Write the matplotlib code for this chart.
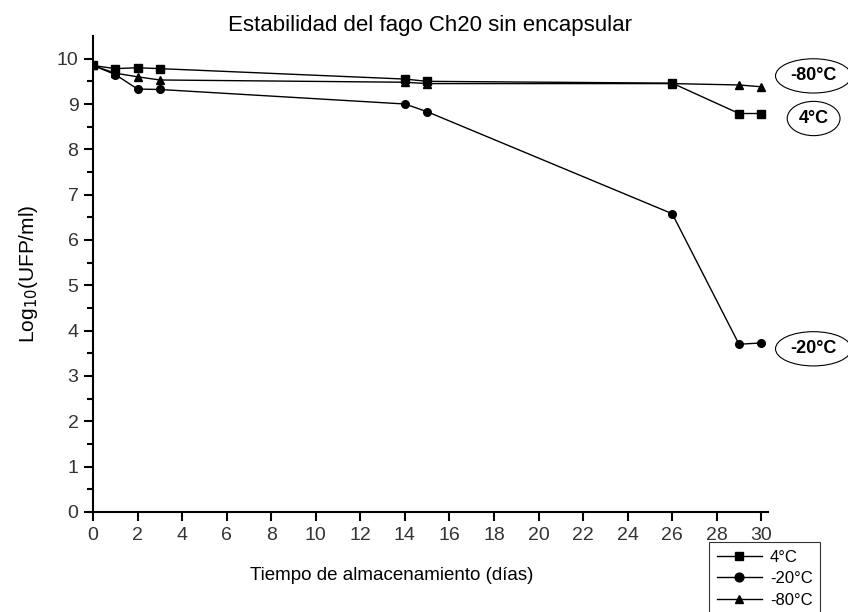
import matplotlib.pyplot as plt
import numpy as np

plt.rcParams['font.family'] = ['Liberation Sans', 'DejaVu Sans']

# data
dias = [0, 1, 2, 3, 14, 15, 26, 29, 30]
ufp_4c = [9.85, 9.78, 9.80, 9.78, 9.55, 9.50, 9.46, 8.79, 8.79]
ufp_m20c = [9.85, 9.65, 9.33, 9.32, 9.00, 8.83, 6.58, 3.70, 3.73]
ufp_m80c = [9.85, 9.68, 9.60, 9.53, 9.48, 9.45, 9.45, 9.42, 9.38]

series_labels = ['4°C', '-20°C', '-80°C']
series_markers = ['s', 'o', '^']
end_labels = ['-80°C', '4°C', '-20°C']
end_label_y = [9.62, 8.68, 3.6]

fig = plt.figure(figsize=(8.48, 6.12), dpi=100)
ax = fig.add_axes([93 / 848, 1 - 512 / 612, (768 - 93) / 848, (512 - 36) / 612])

for vals, lab, mk in zip([ufp_4c, ufp_m20c, ufp_m80c], series_labels, series_markers):
    ax.plot(dias, vals, color='black', linewidth=1, marker=mk, markersize=5.5, label=lab)

ax.set_xlim(0, 30.3)
ax.set_ylim(0, 10.5)
ax.set_xticks(np.arange(0, 31, 2))
ax.set_yticks(np.arange(0, 11, 1))
ax.set_yticks(np.arange(0.5, 10.5, 1), minor=True)
for s in ['top', 'right']:
    ax.spines[s].set_visible(False)
for s in ['left', 'bottom']:
    ax.spines[s].set_linewidth(1.5)
ax.tick_params(axis='both', which='major', direction='out', length=6.5, width=1.5, labelsize=14,
               labelcolor='#333333', pad=4)
ax.tick_params(axis='y', which='minor', direction='out', length=4, width=1.5)

ax.set_title('Estabilidad del fago Ch20 sin encapsular', fontsize=16, pad=2)
ax.set_xlabel('Tiempo de almacenamiento (días)', fontsize=13.5, labelpad=18)
ax.xaxis.set_label_coords(0.442, -0.115)
ax.set_ylabel('Log$_{10}$(UFP/ml)', fontsize=15, labelpad=12)

# etiquetas en elipse al final de cada serie
offsets = [16, 22, 16]
for txt, yv, off in zip(end_labels, end_label_y, offsets):
    ax.annotate(txt, xy=(30.3, yv), xycoords='data', xytext=(off, 0), textcoords='offset points',
                ha='left', va='center', fontsize=13, fontweight='bold',
                bbox=dict(boxstyle='ellipse,pad=0.2', fc='white', ec='black', lw=0.8),
                annotation_clip=False)

leg = fig.legend(loc='upper left', bbox_to_anchor=(709 / 848, 1 - 542 / 612), fontsize=12,
                 handlelength=2.7, frameon=True, fancybox=False, edgecolor='black',
                 borderpad=0.45, labelspacing=0.4, handletextpad=0.5, borderaxespad=0,
                 markerscale=1.15)
leg.get_frame().set_linewidth(0.8)

plt.savefig('out.png', dpi=100)
plt.close()
